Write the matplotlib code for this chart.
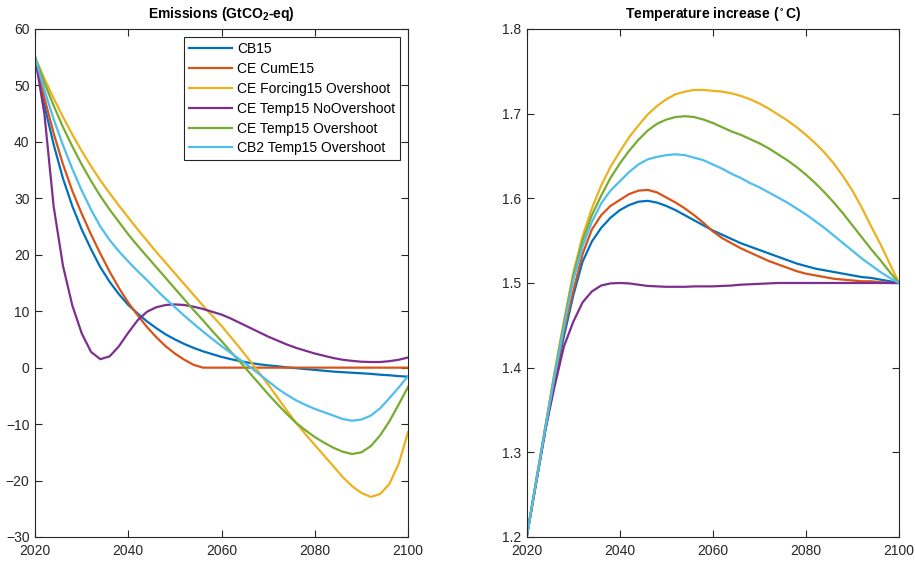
import matplotlib
matplotlib.use('Agg')
import matplotlib.pyplot as plt

plt.rcParams['font.family'] = ['Liberation Sans', 'DejaVu Sans']
plt.rcParams['mathtext.default'] = 'regular'

# years sampled every 2 years
years = list(range(2020, 2101, 2))

labels = ['CB15', 'CE CumE15', 'CE Forcing15 Overshoot', 'CE Temp15 NoOvershoot',
          'CE Temp15 Overshoot', 'CB2 Temp15 Overshoot']
colors = ['#0072BD', '#D95319', '#EDB120', '#7E2F8E', '#77AC30', '#4DBEEE']

# emissions (GtCO2-eq)
em_cb15 = [55, 46.5, 39.5, 33.5, 28.6, 24.5, 21.0, 17.8, 15.2, 13.0, 11.1, 9.6, 8.2,
           7.0, 5.9, 5.0, 4.2, 3.5, 2.9, 2.4, 1.9, 1.5, 1.15, 0.85, 0.6, 0.4, 0.25,
           0.05, -0.1, -0.25, -0.4, -0.55, -0.7, -0.8, -0.9, -1.0, -1.1, -1.25, -1.35,
           -1.5, -1.6]
em_cume15 = [55, 47.8, 41.5, 36.0, 31.3, 27.3, 23.6, 20.2, 17.0, 14.1, 11.5, 9.3, 7.2,
             5.4, 3.8, 2.5, 1.4, 0.5, 0, 0, 0, 0, 0, 0, 0, 0, 0, 0, 0, 0, 0, 0, 0, 0,
             0, 0, 0, 0, 0, 0, 0]
em_forc15 = [55, 51.2, 47.7, 44.4, 41.3, 38.4, 35.7, 33.2, 30.9, 28.7, 26.6, 24.5, 22.5,
             20.5, 18.6, 16.7, 14.8, 12.9, 11.0, 9.2, 7.4, 5.4, 3.4, 1.3, -0.8, -3.0,
             -5.3, -7.6, -9.8, -11.8, -13.7, -15.6, -17.5, -19.4, -21.0, -22.2, -22.9,
             -22.4, -20.6, -17.0, -11.4]
em_temp15_no = [55, 45, 28.5, 18, 11, 6.1, 2.8, 1.5, 2.0, 3.8, 6.2, 8.4, 9.9, 10.7,
                11.1, 11.2, 11.1, 10.8, 10.4, 9.9, 9.4, 8.7, 7.9, 7.1, 6.3, 5.5, 4.8,
                4.1, 3.5, 3.0, 2.5, 2.1, 1.7, 1.4, 1.2, 1.05, 1.0, 1.0, 1.15, 1.4, 1.8]
em_temp15_ov = [55, 50.5, 46.4, 42.6, 39.2, 36.0, 33.1, 30.4, 28.0, 25.8, 23.6, 21.6,
                19.7, 17.8, 15.9, 14.0, 12.1, 10.2, 8.4, 6.5, 4.7, 2.8, 1.0, -0.9, -2.8,
                -4.7, -6.5, -8.2, -9.8, -11.1, -12.3, -13.3, -14.2, -14.9, -15.3, -15.0,
                -13.9, -12.0, -9.5, -6.5, -3.4]
em_cb2 = [55, 49.2, 44.0, 39.4, 35.2, 31.4, 28.0, 25.0, 22.6, 20.6, 18.8, 17.1, 15.5,
          13.8, 12.2, 10.7, 9.2, 7.8, 6.4, 5.1, 3.8, 2.6, 1.4, 0.2, -1.1, -2.4, -3.7,
          -4.8, -5.8, -6.6, -7.3, -7.9, -8.5, -9.1, -9.4, -9.2, -8.5, -7.2, -5.4, -3.5,
          -1.5]

# temperature increase (degC)
t_cb15 = [1.2, 1.263, 1.325, 1.384, 1.437, 1.485, 1.525, 1.549, 1.565, 1.577, 1.586,
          1.592, 1.596, 1.597, 1.595, 1.591, 1.586, 1.580, 1.574, 1.568, 1.562, 1.557,
          1.552, 1.547, 1.543, 1.539, 1.535, 1.531, 1.527, 1.523, 1.520, 1.517, 1.515,
          1.513, 1.511, 1.509, 1.507, 1.506, 1.504, 1.502, 1.5]
t_cume15 = [1.2, 1.264, 1.327, 1.387, 1.443, 1.490, 1.534, 1.563, 1.580, 1.591, 1.598,
            1.605, 1.609, 1.610, 1.607, 1.601, 1.595, 1.588, 1.580, 1.571, 1.561, 1.553,
            1.547, 1.541, 1.536, 1.531, 1.526, 1.522, 1.518, 1.514, 1.511, 1.509, 1.507,
            1.505, 1.504, 1.503, 1.502, 1.502, 1.501, 1.5, 1.5]
t_forc15 = [1.2, 1.266, 1.33, 1.395, 1.455, 1.512, 1.555, 1.588, 1.615, 1.637, 1.655,
            1.672, 1.686, 1.699, 1.709, 1.717, 1.723, 1.726, 1.728, 1.728, 1.727, 1.726,
            1.724, 1.721, 1.717, 1.712, 1.706, 1.699, 1.692, 1.684, 1.675, 1.665, 1.654,
            1.641, 1.626, 1.609, 1.589, 1.567, 1.546, 1.523, 1.5]
t_temp15_no = [1.2, 1.263, 1.327, 1.378, 1.425, 1.454, 1.477, 1.490, 1.497, 1.4995,
               1.5, 1.4995, 1.498, 1.4965, 1.496, 1.4955, 1.4955, 1.4955, 1.496, 1.496,
               1.496, 1.4965, 1.497, 1.498, 1.4985, 1.499, 1.4995, 1.5, 1.5, 1.5, 1.5,
               1.5, 1.5, 1.5, 1.5, 1.5, 1.5, 1.5, 1.5, 1.5, 1.5]
t_temp15_ov = [1.2, 1.265, 1.33, 1.393, 1.452, 1.508, 1.550, 1.580, 1.603, 1.624, 1.641,
               1.656, 1.669, 1.680, 1.688, 1.693, 1.696, 1.697, 1.696, 1.693, 1.689,
               1.684, 1.679, 1.675, 1.670, 1.665, 1.659, 1.652, 1.645, 1.637, 1.628,
               1.618, 1.607, 1.595, 1.582, 1.568, 1.554, 1.540, 1.527, 1.513, 1.5]
t_cb2 = [1.2, 1.264, 1.328, 1.39, 1.448, 1.503, 1.543, 1.572, 1.594, 1.609, 1.620,
         1.631, 1.640, 1.646, 1.649, 1.651, 1.652, 1.651, 1.648, 1.645, 1.640, 1.635,
         1.629, 1.624, 1.618, 1.613, 1.607, 1.601, 1.595, 1.588, 1.581, 1.573, 1.565,
         1.556, 1.547, 1.538, 1.529, 1.521, 1.513, 1.506, 1.5]

emissions = [em_cb15, em_cume15, em_forc15, em_temp15_no, em_temp15_ov, em_cb2]
temps = [t_cb15, t_cume15, t_forc15, t_temp15_no, t_temp15_ov, t_cb2]


def style_axes(ax):
    ax.set_xlim(2020, 2100)
    ax.set_xticks([2020, 2040, 2060, 2080, 2100])
    ax.tick_params(direction='in', top=True, right=True, length=5, width=0.8,
                   labelsize=10, colors='#262626')
    ax.tick_params(axis='x', pad=5)
    ax.tick_params(axis='y', pad=4)
    for sp in ax.spines.values():
        sp.set_color('#262626')
        sp.set_linewidth(0.8)


fig = plt.figure(figsize=(9.15, 5.64), dpi=100)
ax1 = fig.add_axes([0.0383, 0.0479, 0.4077, 0.9007])
ax2 = fig.add_axes([0.5756, 0.0479, 0.4069, 0.9007])

for vals, c, lab in zip(emissions, colors, labels):
    ax1.plot(years, vals, color=c, lw=1.6, label=lab)
style_axes(ax1)
ax1.set_ylim(-30, 60)
ax1.set_yticks(range(-30, 61, 10))
ax1.set_title('Emissions (GtCO$_2$-eq)', fontsize=10, fontweight='bold', pad=8)
leg = ax1.legend(loc='upper right', fontsize=10, fancybox=False, framealpha=1,
                 edgecolor='#262626', handlelength=3.1, borderpad=0.35,
                 labelspacing=0.42, handletextpad=0.35, borderaxespad=0.6)
leg.get_frame().set_linewidth(0.8)

for vals, c in zip(temps, colors):
    ax2.plot(years, vals, color=c, lw=1.6)
style_axes(ax2)
ax2.set_ylim(1.2, 1.8)
ax2.set_yticks([1.2, 1.3, 1.4, 1.5, 1.6, 1.7, 1.8])
ax2.set_title(r'Temperature increase ($^\circ$C)', fontsize=10, fontweight='bold', pad=8)

fig.savefig('out.png', dpi=100)
